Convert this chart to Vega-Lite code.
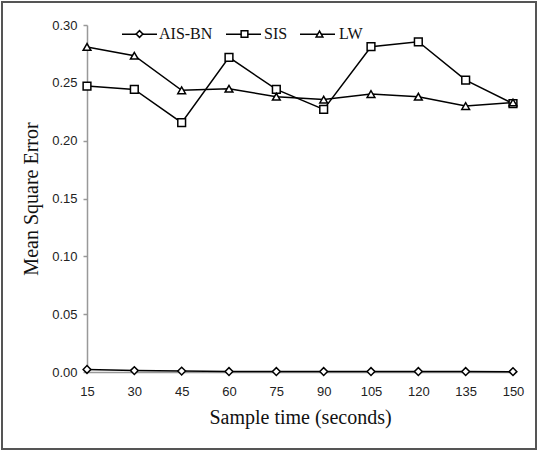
{
  "$schema": "https://vega.github.io/schema/vega-lite/v6.json",
  "width": 534,
  "height": 447,
  "padding": 2,
  "autosize": {"type": "none"},
  "background": "white",
  "config": {
    "view": {"stroke": "#555555", "strokeWidth": 2, "fill": "white"},
    "font": "Liberation Sans"
  },
  "data": {
    "values": [
      {"t": 15, "series": "AIS-BN", "mse": 0.0022},
      {"t": 30, "series": "AIS-BN", "mse": 0.0012},
      {"t": 45, "series": "AIS-BN", "mse": 0.0008},
      {"t": 60, "series": "AIS-BN", "mse": 0.0004},
      {"t": 75, "series": "AIS-BN", "mse": 0.0004},
      {"t": 90, "series": "AIS-BN", "mse": 0.0004},
      {"t": 105, "series": "AIS-BN", "mse": 0.0004},
      {"t": 120, "series": "AIS-BN", "mse": 0.0004},
      {"t": 135, "series": "AIS-BN", "mse": 0.0004},
      {"t": 150, "series": "AIS-BN", "mse": 0.0003},
      {"t": 15, "series": "SIS", "mse": 0.2472},
      {"t": 30, "series": "SIS", "mse": 0.2443},
      {"t": 45, "series": "SIS", "mse": 0.2155},
      {"t": 60, "series": "SIS", "mse": 0.2720},
      {"t": 75, "series": "SIS", "mse": 0.2443},
      {"t": 90, "series": "SIS", "mse": 0.2270},
      {"t": 105, "series": "SIS", "mse": 0.2812},
      {"t": 120, "series": "SIS", "mse": 0.2855},
      {"t": 135, "series": "SIS", "mse": 0.2524},
      {"t": 150, "series": "SIS", "mse": 0.2320},
      {"t": 15, "series": "LW", "mse": 0.2810},
      {"t": 30, "series": "LW", "mse": 0.2734},
      {"t": 45, "series": "LW", "mse": 0.2435},
      {"t": 60, "series": "LW", "mse": 0.2449},
      {"t": 75, "series": "LW", "mse": 0.2380},
      {"t": 90, "series": "LW", "mse": 0.2355},
      {"t": 105, "series": "LW", "mse": 0.2403},
      {"t": 120, "series": "LW", "mse": 0.2380},
      {"t": 135, "series": "LW", "mse": 0.2299},
      {"t": 150, "series": "LW", "mse": 0.2330}
    ]
  },
  "encoding": {
    "x": {
      "field": "t",
      "type": "quantitative",
      "scale": {"domain": [15, 150], "range": [85, 511], "nice": false, "zero": false},
      "axis": {
        "title": "Sample time (seconds)",
        "values": [15, 30, 45, 60, 75, 90, 105, 120, 135, 150],
        "offset": -77,
        "grid": false,
        "domainColor": "#999999",
        "domainWidth": 1.5,
        "ticks": false,
        "labelFlush": false,
        "labelOverlap": false,
        "labelPadding": 13,
        "labelFont": "Liberation Sans",
        "labelFontSize": 13,
        "labelColor": "#222222",
        "titleFont": "Liberation Serif",
        "titleFontSize": 20,
        "titleFontWeight": "normal",
        "titleColor": "#111111",
        "titlePadding": 9
      }
    },
    "y": {
      "field": "mse",
      "type": "quantitative",
      "scale": {"domain": [0, 0.3], "range": [370, 23], "nice": false, "zero": false},
      "axis": {
        "title": "Mean Square Error",
        "values": [0, 0.05, 0.1, 0.15, 0.2, 0.25, 0.3],
        "format": ".2f",
        "offset": -85,
        "grid": false,
        "domainColor": "#999999",
        "domainWidth": 1.5,
        "tickColor": "#999999",
        "tickSize": 4,
        "tickWidth": 1.5,
        "labelFlush": false,
        "labelPadding": 6,
        "labelFont": "Liberation Sans",
        "labelFontSize": 13,
        "labelColor": "#222222",
        "titleFont": "Liberation Serif",
        "titleFontSize": 20,
        "titleFontWeight": "normal",
        "titleColor": "#111111",
        "titlePadding": 10
      }
    }
  },
  "layer": [
    {
      "mark": {"type": "line", "strokeWidth": 1.5},
      "encoding": {
        "color": {
          "field": "series",
          "type": "nominal",
          "scale": {"domain": ["AIS-BN", "SIS", "LW"], "range": ["black", "black", "black"]},
          "legend": {
            "title": null,
            "orient": "none",
            "legendX": 119,
            "legendY": 13.5,
            "direction": "horizontal",
            "columns": 3,
            "columnPadding": 10,
            "symbolType": "stroke",
            "symbolSize": 1225,
            "symbolStrokeWidth": 1.5,
            "labelFont": "Liberation Serif",
            "labelFontSize": 16,
            "labelOpacity": 0,
            "labelOffset": 1
          }
        }
      }
    },
    {
      "mark": {"type": "point", "filled": false, "fill": "white", "fillOpacity": 1, "stroke": "black", "strokeWidth": 1.5, "size": 60, "opacity": 1},
      "encoding": {
        "shape": {
          "field": "series",
          "type": "nominal",
          "sort": ["AIS-BN", "SIS", "LW"],
          "scale": {"range": ["diamond", "square", "triangle-up"]},
          "legend": {
            "title": null,
            "orient": "none",
            "legendX": 129.5,
            "legendY": 24,
            "direction": "horizontal",
            "columns": 3,
            "columnPadding": 24,
            "symbolSize": 45,
            "symbolStrokeWidth": 1.5,
            "labelFont": "Liberation Serif",
            "labelFontSize": 16,
            "labelColor": "#111111",
            "labelOffset": 11.5
          }
        }
      }
    }
  ]
}
